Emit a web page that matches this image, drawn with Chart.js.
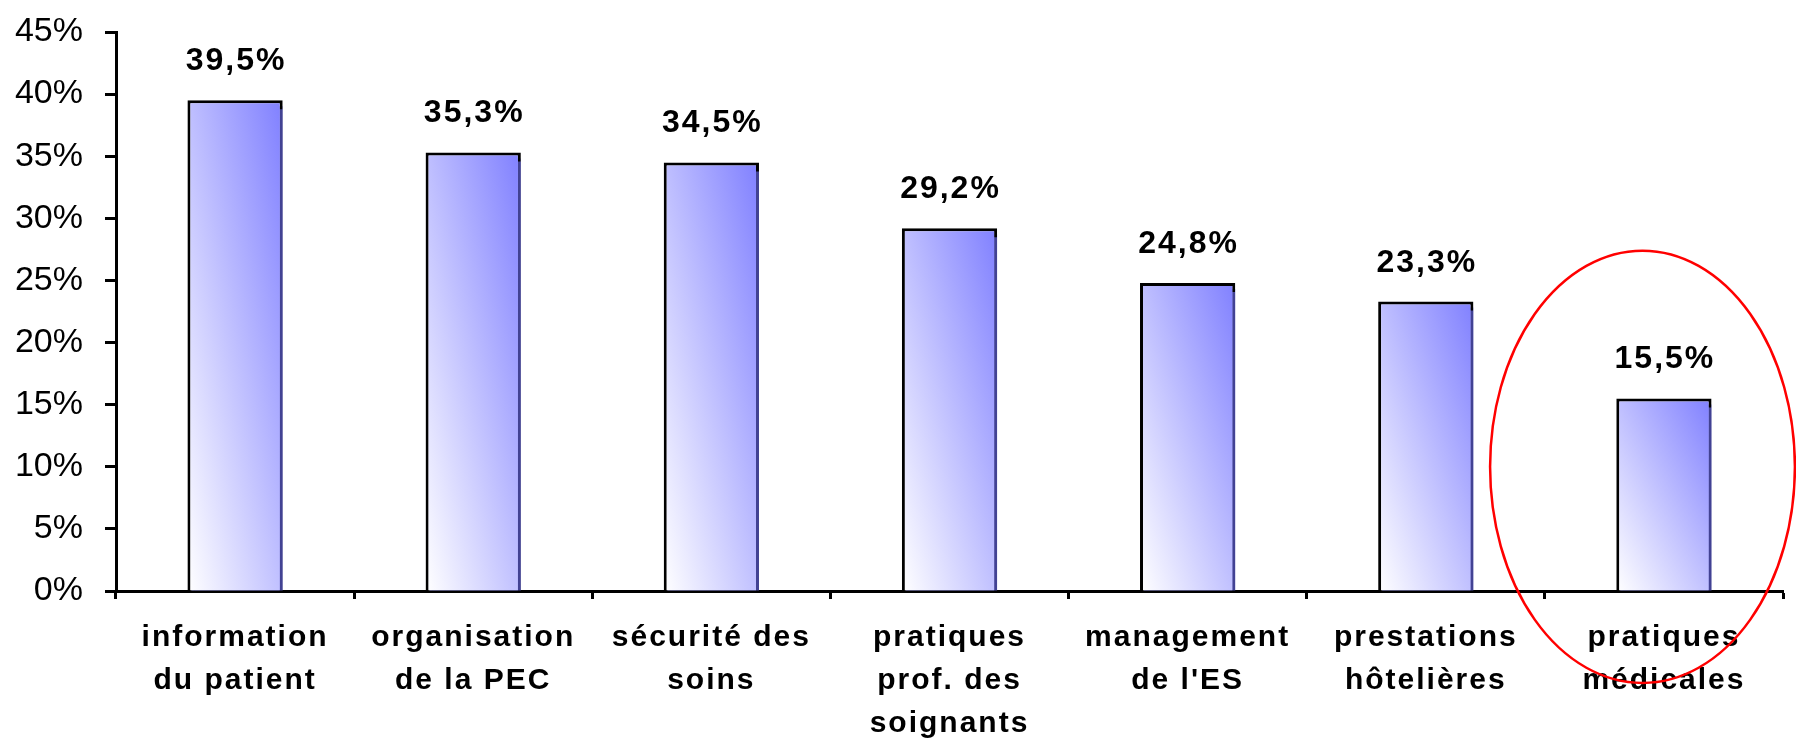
<!DOCTYPE html>
<html>
<head>
<meta charset="utf-8">
<script src="https://cdn.jsdelivr.net/npm/chart.js@4.4.0/dist/chart.umd.min.js"></script>
<style>
    html, body { margin: 0; padding: 0; background: #fff; }
    #wrap { width: 1796px; height: 741px; position: relative; }
</style>
</head>
<body>
<div id="wrap"><canvas id="chart"></canvas></div>
<script>
// --- data ---
const categories = [
    ['information', 'du patient'],
    ['organisation', 'de la PEC'],
    ['sécurité des', 'soins'],
    ['pratiques', 'prof. des', 'soignants'],
    ['management', "de l'ES"],
    ['prestations', 'hôtelières'],
    ['pratiques', 'médicales']
];
const values = [39.5, 35.3, 34.5, 29.2, 24.8, 23.3, 15.5];
const yTicks = [0, 5, 10, 15, 20, 25, 30, 35, 40, 45];

// red ellipse round the last category (data units)
const highlight = { index: 5.91, value: 10, halfWidth: 0.64, halfHeight: 17.4 };

const FONT = "'Liberation Sans', Arial, sans-serif";
const BAR_FRACTION = 0.4;

// diagonal gradient: white bottom-left -> blue top-right, in the bar's own box
function barFill(c) {
    const chart = c.chart;
    const xs = chart.scales.x, ys = chart.scales.y;
    if (!xs || !ys || !chart.chartArea) return '#a0a0ff';
    const w = xs.width / categories.length * BAR_FRACTION;
    const left = xs.getPixelForValue(c.dataIndex) - w / 2;
    const bottom = ys.getPixelForValue(0);
    const h = bottom - ys.getPixelForValue(values[c.dataIndex]);
    const t = 2 / (1 / (w * w) + 1 / (h * h));
    const g = chart.ctx.createLinearGradient(left, bottom, left + t / w, bottom - t / h);
    g.addColorStop(0, '#ffffff');
    g.addColorStop(1, '#8080ff');
    return g;
}

const textPlugin = {
    id: 'textPlugin',
    beforeDraw(chart) {
        // x labels are drawn spaced out, like the original
        chart.ctx.letterSpacing = '2px';
    },
    beforeDatasetsDraw(chart) {
        const ctx = chart.ctx;
        ctx.letterSpacing = '0px';
        ctx.save();
        ctx.shadowColor = 'rgba(110,110,245,0.6)';
        ctx.shadowOffsetX = 4;
        ctx.shadowOffsetY = 6;
    },
    afterDatasetsDraw(chart) {
        const ctx = chart.ctx;
        ctx.restore();
        ctx.save();
        ctx.letterSpacing = '2px';
        ctx.font = `bold 32px ${FONT}`;
        ctx.fillStyle = '#000';
        ctx.textAlign = 'center';
        ctx.textBaseline = 'alphabetic';
        chart.getDatasetMeta(0).data.forEach((bar, i) => {
            ctx.fillText(values[i].toFixed(1).replace('.', ',') + '%', bar.x + 1, bar.y - 30);
        });
        ctx.restore();
        ctx.letterSpacing = '0px';
    },
    afterDraw(chart) {
        const xs = chart.scales.x, ys = chart.scales.y;
        const cx = xs.getPixelForValue(highlight.index);
        const cy = ys.getPixelForValue(highlight.value);
        const rx = xs.getPixelForValue(highlight.index + highlight.halfWidth) - cx;
        const ry = ys.getPixelForValue(highlight.value) - ys.getPixelForValue(highlight.value + highlight.halfHeight);
        const ctx = chart.ctx;
        ctx.save();
        ctx.beginPath();
        ctx.ellipse(cx, cy, rx, ry, 0, 0, Math.PI * 2);
        ctx.strokeStyle = '#ff0000';
        ctx.lineWidth = 2.5;
        ctx.stroke();
        ctx.restore();
    }
};

new Chart(document.getElementById('chart'), {
    type: 'bar',
    data: {
        labels: categories,
        datasets: [{
            data: values,
            backgroundColor: barFill,
            borderColor: '#000',
            borderWidth: 3,
            barPercentage: BAR_FRACTION,
            categoryPercentage: 1,
            clip: { left: false, top: false, right: false, bottom: 0 }
        }]
    },
    options: {
        responsive: true,
        maintainAspectRatio: false,
        animation: false,
        devicePixelRatio: 1,
        layout: { padding: { top: 32, right: 13, left: 0, bottom: 0 } },
        plugins: { legend: { display: false }, tooltip: { enabled: false } },
        scales: {
            x: {
                offset: true,
                grid: { offset: true, drawOnChartArea: false, tickLength: 8, tickWidth: 3, tickColor: '#000' },
                border: { width: 3, color: '#000' },
                ticks: {
                    color: '#000',
                    padding: 17,
                    maxRotation: 0,
                    autoSkip: false,
                    font: { family: FONT, size: 30, weight: 'bold', lineHeight: 1.43 }
                },
                afterFit: s => { s.height = 150; }
            },
            y: {
                min: yTicks[0],
                max: yTicks[yTicks.length - 1],
                afterBuildTicks: s => { s.ticks = yTicks.map(v => ({ value: v })); },
                grid: { drawOnChartArea: false, tickLength: 11, tickWidth: 3, tickColor: '#000' },
                border: { width: 3, color: '#000' },
                ticks: {
                    z: 1,
                    color: '#000',
                    padding: 22,
                    font: { family: FONT, size: 34 },
                    callback: v => v + '%'
                },
                afterFit: s => { s.width = 116; s.paddingTop = 0; s.paddingBottom = 0; }
            }
        }
    },
    plugins: [textPlugin]
});
</script>
</body>
</html>
